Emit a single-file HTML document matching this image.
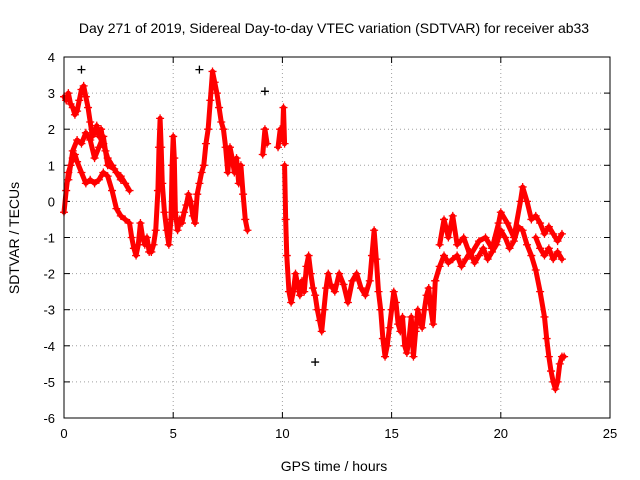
<!DOCTYPE html>
<html><head><meta charset="utf-8">
<style>
body{margin:0;background:#fff;}
svg{display:block;font-family:"Liberation Sans",sans-serif;}
</style></head>
<body>
<svg id="chart" width="640" height="480" viewBox="0 0 640 480" xmlns="http://www.w3.org/2000/svg">
<rect width="640" height="480" fill="#fff"/>
<text x="334" y="33" text-anchor="middle" font-size="14">Day 271 of 2019, Sidereal Day-to-day VTEC variation (SDTVAR) for receiver ab33</text>
<text x="334" y="471" text-anchor="middle" font-size="14">GPS time / hours</text>
<text transform="translate(19,238) rotate(-90)" text-anchor="middle" font-size="14">SDTVAR / TECUs</text>
<g id="grid"></g>
<g id="axes"></g>
<g id="marks"></g>
<rect x="64" y="57" width="546" height="361" fill="none" stroke="#000" stroke-width="1"/>
</svg>
<script>
const xTicks=[0,5,10,15,20,25];
const yTicks=[-6,-5,-4,-3,-2,-1,0,1,2,3,4];
const t1=[0,0.1,0.2,0.3,0.4,0.5,0.6,0.7,0.8,0.9,1.0,1.1,1.2,1.3,1.4,1.5,1.6,1.7,1.8,1.9,2.0,2.2,2.4,2.6,2.8,3.0];
const v1=[2.9,2.8,3.0,2.7,2.6,2.4,2.5,2.8,3.1,3.2,2.9,2.6,2.2,1.8,1.9,2.1,1.8,2.0,1.6,1.4,1.2,1.0,0.8,0.7,0.5,0.3];
const t2=[0,0.1,0.2,0.3,0.4,0.5,0.6,0.8,1.0,1.2,1.4,1.6,1.8,2.0,2.2,2.4,2.6,2.8,3.0,3.1,3.2,3.3,3.4,3.5,3.6,3.7,3.8,3.9,4.0,4.1,4.2,4.3,4.35,4.4,4.45,4.5,4.6,4.7,4.8,4.9,4.95,5.0,5.05,5.1,5.2,5.3,5.4,5.5,5.6,5.7,5.8,5.9,6.0,6.1,6.2,6.3,6.4,6.5,6.6,6.7,6.8,6.9,7.0,7.1,7.2,7.3,7.4,7.5,7.6,7.7,7.8,7.9,8.0,8.1,8.2,8.3,8.4];
const v2=[-0.3,0.3,0.8,1.0,1.2,1.3,1.1,0.8,0.5,0.6,0.5,0.6,0.8,0.7,0.3,-0.2,-0.4,-0.5,-0.6,-1.0,-1.3,-1.5,-1.2,-0.6,-1.0,-1.2,-1.0,-1.4,-1.4,-1.2,-0.8,0.3,1.5,2.3,1.5,0.5,-0.3,-0.8,-1.2,-0.5,1.0,1.8,1.2,-0.3,-0.8,-0.5,-0.6,-0.3,-0.1,0.2,0.0,-0.4,-0.6,0.2,0.5,0.8,1.0,1.6,2.0,2.8,3.6,3.3,3.0,2.6,2.2,2.0,1.5,0.8,1.5,1.2,0.8,1.2,0.5,1.0,0.2,-0.5,-0.8];
const t3=[0.2,0.4,0.6,0.8,1.0,1.2,1.4,1.6,1.8,2.0,2.3,2.6];
const v3=[0.6,1.4,1.7,1.6,1.9,1.7,1.2,1.5,1.8,1.0,0.9,0.6];
const t4=[9.1,9.2,9.3];
const v4=[1.3,2.0,1.6];
const t5=[9.8,9.9,10.0,10.05,10.1];
const v5=[1.5,2.0,1.7,2.6,1.6];
const t6=[10.1,10.15,10.2,10.3,10.4,10.5,10.6,10.7,10.8,10.9,11.0,11.1,11.2,11.3,11.4,11.5,11.6,11.7,11.8,11.9,12.0,12.1,12.2,12.4,12.6,12.8,13.0,13.2,13.4,13.6,13.8,14.0,14.1,14.2,14.3,14.4,14.5,14.6,14.7,14.8,14.9,15.0,15.1,15.2,15.3,15.4,15.5,15.6,15.7,15.8,15.9,16.0,16.1,16.2,16.3,16.4,16.5,16.6,16.7,16.8,16.9,17.0];
const v6=[1.0,-0.5,-1.5,-2.5,-2.8,-2.5,-2.0,-2.3,-2.6,-2.2,-2.5,-1.8,-1.5,-2.0,-2.4,-2.6,-3.0,-3.3,-3.6,-3.0,-2.4,-2.0,-2.3,-2.5,-2.0,-2.3,-2.8,-2.2,-2.0,-2.4,-2.6,-2.2,-1.5,-0.8,-1.6,-2.5,-3.0,-3.8,-4.3,-4.0,-3.5,-3.0,-2.5,-2.8,-3.4,-3.6,-3.2,-4.0,-4.2,-3.8,-3.2,-4.3,-3.6,-3.0,-3.3,-3.5,-3.0,-2.6,-2.4,-3.0,-3.4,-2.2];
const t7=[17.0,17.2,17.4,17.6,17.8,18.0,18.2,18.4,18.6,18.8,19.0,19.2,19.4,19.6,19.8,20.0,20.2,20.4,20.6,20.8,21.0,21.2,21.4,21.6,21.8,22.0,22.1,22.2,22.3,22.4,22.5,22.6,22.7,22.8,22.9];
const v7=[-2.2,-1.8,-1.5,-1.7,-1.6,-1.5,-1.8,-1.6,-1.4,-1.7,-1.5,-1.3,-1.6,-1.4,-1.2,-0.8,-1.0,-1.3,-1.1,-0.7,-0.8,-1.2,-1.5,-1.9,-2.5,-3.2,-3.8,-4.3,-4.7,-5.0,-5.2,-5.0,-4.5,-4.3,-4.3];
const t8=[17.2,17.4,17.6,17.8,18.0,18.3,18.6,19.0,19.3,19.6,19.9,20.0,20.3,20.6,20.9,21.0,21.2,21.4,21.6,21.8,22.0,22.2,22.4,22.6,22.8];
const v8=[-1.2,-0.5,-1.0,-0.4,-1.2,-1.0,-1.5,-1.1,-1.0,-1.3,-0.6,-0.3,-0.6,-1.0,0.0,0.4,0.0,-0.5,-0.4,-0.6,-0.9,-0.7,-0.9,-1.1,-0.9];
const t9=[21.6,21.8,22.0,22.2,22.4,22.6,22.8];
const v9=[-1.0,-1.3,-1.5,-1.3,-1.6,-1.4,-1.6];
const blackT=[0.8,6.2,9.2,11.5];
const blackV=[3.65,3.65,3.05,-4.45];

const X0=64,X1=610,Y0=418,Y1=57;
const xs=t=>X0+(t-0)/(25-0)*(X1-X0);
const ys=v=>Y0-(v+6)/(4+6)*(Y0-Y1);
const NS="http://www.w3.org/2000/svg";
const grid=document.getElementById('grid'),axes=document.getElementById('axes'),marks=document.getElementById('marks');
function mk(tag,attrs,parent){const e=document.createElementNS(NS,tag);for(const k in attrs)e.setAttribute(k,attrs[k]);parent.appendChild(e);return e;}
xTicks.forEach(t=>{const x=xs(t);
 if(t>0&&t<25){const g=mk('line',{x1:x,x2:x,y1:Y0,y2:Y1,stroke:'#a0a0a0','stroke-dasharray':'1,3','stroke-width':1},grid);
 
 }
 mk('line',{x1:x,x2:x,y1:Y0,y2:Y0-6,stroke:'#000'},axes);
 mk('line',{x1:x,x2:x,y1:Y1,y2:Y1+6,stroke:'#000'},axes);
 const l=mk('text',{x:x,y:Y0+20,'text-anchor':'middle','font-size':13},axes);l.textContent=t;
 
 
});
yTicks.forEach(v=>{const y=ys(v);
 if(v>-6&&v<4){const g=mk('line',{x1:X0,x2:X1,y1:y,y2:y,stroke:'#a0a0a0','stroke-dasharray':'1,3','stroke-width':1},grid);
 
 }
 mk('line',{x1:X0,x2:X0+6,y1:y,y2:y,stroke:'#000'},axes);
 mk('line',{x1:X1,x2:X1-6,y1:y,y2:y,stroke:'#000'},axes);
 const l=mk('text',{x:X0-9,y:y+5,'text-anchor':'end','font-size':13},axes);l.textContent=v;
 
 
});
function cross(t,v,color){const x=xs(t),y=ys(v);
 const p=mk('path',{d:`M${x-4},${y}h8M${x},${y-4}v8`,stroke:color,'stroke-width':1.3,fill:'none'},marks);
 
 }
const traces=[[t1,v1],[t2,v2],[t3,v3],[t4,v4],[t5,v5],[t6,v6],[t7,v7],[t8,v8],[t9,v9]];
blackT.forEach((t,i)=>cross(t,blackV[i],'#000'));
traces.forEach(([T,V])=>{
 const pts=T.map((t,i)=>xs(t)+','+ys(V[i])).join(' ');
 const pl=mk('polyline',{points:pts,fill:'none',stroke:'#ff0000','stroke-width':5,'stroke-linejoin':'round','stroke-linecap':'round'},marks);
 
 
 T.forEach((t,i)=>cross(t,V[i],'#ff0000'));
});
</script>
</body></html>
